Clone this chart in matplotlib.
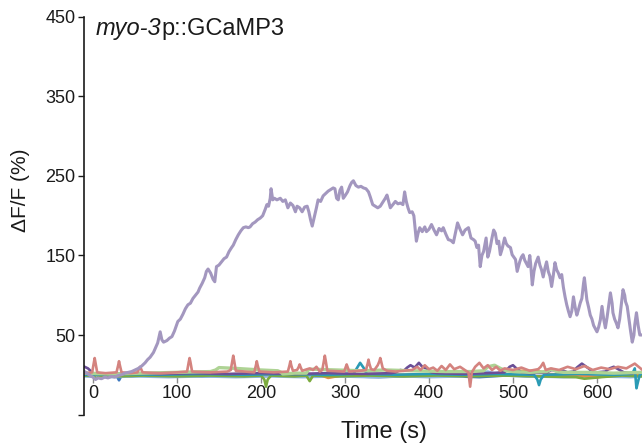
import matplotlib
matplotlib.use("Agg")
import matplotlib.pyplot as plt

plt.rcParams['font.family'] = ['Liberation Sans', 'DejaVu Sans']

# ---------------- data ----------------
# main responding trace (myo-3p::GCaMP3), time (s) and dF/F (%)
main_t = [-10, -6, -2, 0, 3, 6, 10, 14, 18, 22, 26, 30, 34, 38, 42, 46, 50, 54, 58, 62,
          65, 68, 72, 75, 77, 80, 82, 84, 88, 91, 94, 97, 101, 104, 107, 110, 113, 116, 119, 122,
          125, 127, 130, 133, 135, 137, 140, 143, 145, 147, 150, 153, 156, 159, 162, 165, 167, 170, 173, 176,
          179, 182, 185, 187, 190, 193, 196, 199, 202, 205, 207, 209, 211, 212, 214, 216, 219, 223, 226, 229,
          232, 235, 238, 241, 243, 246, 249, 252, 255, 257, 259, 261, 263, 266, 268, 271, 274, 277, 280, 283,
          286, 288, 290, 292, 294, 296, 298, 300, 303, 306, 308, 310, 313, 316, 319, 322, 325, 328, 330, 333,
          336, 339, 342, 345, 348, 350, 352, 354, 357, 360, 363, 366, 369, 371, 373, 375, 377, 380, 382, 385,
          387, 389, 392, 395, 397, 400, 403, 406, 409, 412, 415, 417, 420, 423, 426, 429, 431, 434, 437, 440,
          443, 447, 450, 453, 455, 457, 459, 461, 463, 465, 468, 470, 472, 475, 477, 479, 481, 483, 485, 487,
          490, 492, 494, 497, 499, 501, 503, 505, 508, 510, 512, 514, 516, 518, 520, 521, 523, 525, 527, 530,
          532, 534, 536, 538, 540, 542, 544, 546, 548, 550, 552, 554, 556, 558, 560, 562, 564, 566, 568, 570,
          572, 574, 576, 578, 580, 582, 584, 585, 587, 588, 590, 592, 594, 596, 598, 600, 602, 604, 606, 608,
          610, 612, 614, 616, 618, 619, 621, 623, 625, 627, 629, 631, 633, 634, 636, 638, 640, 642, 644, 645,
          647, 649, 651, 653]
main_v = [4, 1, -2, -3, -6, -4, -5, -3, -4, -2, -3, -1, 0, 2, 3, 4, 6, 8, 11, 15,
          19, 22, 28, 35, 40, 54, 44, 41, 43, 46, 48, 55, 67, 70, 76, 83, 88, 90, 96, 100,
          104, 109, 115, 122, 130, 133, 128, 120, 117, 136, 138, 142, 146, 148, 155, 160, 163, 170, 176, 181,
          185, 186, 185, 186, 190, 192, 195, 197, 200, 208, 214, 212, 222, 234, 220, 222, 220, 222, 218, 220,
          210, 216, 213, 205, 212, 210, 205, 211, 212, 205, 195, 187, 196, 210, 220, 218, 225, 228, 231, 233,
          235, 234, 222, 220, 232, 236, 222, 225, 230, 238, 242, 244, 238, 236, 237, 235, 234, 230, 224, 214,
          212, 210, 212, 217, 222, 226, 218, 210, 214, 218, 215, 216, 214, 230, 218, 210, 204, 205, 200, 168,
          178, 185, 180, 186, 180, 183, 189, 182, 176, 184, 181, 185, 177, 170, 169, 166, 176, 191, 183, 176,
          182, 185, 172, 170, 168, 160, 163, 136, 150, 155, 172, 148, 155, 172, 182, 178, 165, 168, 151, 158,
          172, 165, 162, 160, 151, 148, 145, 130, 142, 148, 151, 144, 140, 136, 150, 140, 113, 130, 140, 148,
          138, 132, 123, 134, 142, 130, 124, 111, 125, 141, 132, 128, 122, 126, 110, 98, 88, 80, 73, 80,
          98, 85, 75, 82, 90, 96, 115, 122, 104, 94, 85, 75, 70, 62, 58, 54, 60, 69, 86, 70,
          59, 72, 88, 103, 90, 78, 70, 65, 59, 70, 88, 107, 100, 92, 86, 70, 55, 41, 50, 63,
          78, 62, 50, 50]

# non-responding traces near baseline
blue_t = [-10, 0, 10, 20, 28, 31, 34, 45, 60, 80, 100, 130, 160, 190, 220, 250, 280, 310, 340, 370,
          400, 430, 460, 490, 520, 550, 580, 610, 640, 653]
blue_v = [-1, -2, -1, -2, -1, -7, -1, -2, -1, -2, -1, -2, -1, -2, -1, -2, -1, -2, -3, -2,
          -1, -2, -3, -1, -2, -1, -2, -1, -2, -1]

lightblue_t = [-10, 20, 50, 90, 130, 170, 210, 250, 290, 330, 370, 400, 440, 460, 470, 480, 520, 560, 600, 640, 653]
lightblue_v = [-2, -3, -2, -3, -2, -3, -2, -3, -2, -3, -2, -3, -2, 2, 4, 1, -2, -3, -2, -3, -2]

orange_t = [-10, 10, 40, 70, 100, 140, 180, 220, 250, 270, 280, 300, 330, 370, 410, 450, 480, 490, 530, 540, 570, 600, 630, 653]
orange_v = [1, 0, 1, 0, 1, 0, 1, 0, 1, 0, -4, 0, 1, 0, 1, 0, 1, 5, 5, 1, 0, -3, 0, 1]

olive_t = [-10, 0, 4, 8, 30, 60, 100, 140, 180, 200, 204, 206, 208, 212, 240, 254, 258, 262, 290, 330,
           370, 410, 450, 490, 530, 575, 585, 595, 605, 630, 653]
olive_v = [-1, -1, -5, -1, -2, -1, -2, -1, -2, -1, -6, -15, -6, -1, -2, -1, -8, -1, -2, -1,
           -2, -1, -2, -1, -2, -3, -5, -4, -3, -1, -2]

teal_t = [-10, 30, 80, 130, 180, 230, 280, 310, 314, 318, 322, 326, 360, 400, 440, 480, 525, 529, 531, 533,
          537, 580, 620, 642, 645, 647, 649, 651, 653]
teal_v = [0, 1, 0, 1, 0, 1, 0, 1, 8, 15, 9, 1, 0, 1, 0, 1, 0, -6, -13, -6,
          0, 1, 0, 1, 8, -17, -8, 0, 1]

darkpurple_t = [-10, -6, 0, 10, 40, 80, 120, 160, 200, 240, 280, 320, 355, 360, 366, 370, 374, 378, 383, 388,
                392, 397, 403, 410, 440, 470, 490, 496, 500, 505, 510, 520, 540, 546, 552, 558, 565, 572, 576, 582,
                586, 590, 594, 600, 610, 615, 620, 627, 632, 640, 653]
darkpurple_v = [10, 8, 2, 1, 2, 1, 2, 1, 2, 1, 2, 1, 2, 3, 6, 5, 9, 12, 9, 15,
                10, 8, 3, 2, 1, 2, 3, 10, 12, 7, 3, 2, 3, 6, 5, 6, 3, 4, 9, 14,
                11, 8, 4, 3, 4, 8, 10, 6, 3, 2, 3]

pink_t = [-10, -1, 1, 2, 3, 5, 15, 28, 30, 31, 32, 34, 45, 53, 55, 56, 57, 59, 80, 100,
          112, 114, 115, 116, 118, 140, 160, 164, 166, 167, 168, 170, 192, 194, 195, 196, 198, 215, 232, 234,
          235, 236, 238, 243, 245, 246, 247, 249, 258, 262, 266, 270, 273, 275, 276, 277, 279, 299, 301, 302,
          303, 305, 318, 325, 327, 328, 329, 331, 335, 339, 341, 342, 343, 345, 350, 360, 370, 380, 386, 390,
          395, 400, 405, 410, 415, 420, 425, 430, 437, 444, 447, 449, 451, 455, 460, 465, 470, 475, 480, 485,
          490, 500, 510, 520, 530, 533, 536, 539, 545, 555, 565, 575, 585, 595, 605, 615, 625, 635, 645, 653]
pink_v = [2, 3, 15, 21, 15, 3, 2, 3, 12, 17, 12, 3, 2, 3, 8, 10, 8, 3, 2, 3,
          4, 16, 21, 16, 4, 3, 4, 6, 18, 24, 18, 5, 3, 12, 17, 12, 4, 3, 4, 12,
          17, 12, 5, 6, 10, 13, 10, 5, 8, 6, 10, 4, 6, 18, 24, 18, 5, 4, 10, 13,
          10, 4, 5, 6, 14, 19, 14, 7, 6, 12, 17, 21, 17, 8, 5, 4, 5, 6, 10, 6,
          12, 7, 9, 5, 11, 6, 13, 7, 10, 5, 3, -15, 3, 10, 15, 8, 12, 6, 10, 5,
          8, 6, 9, 5, 7, 10, 15, 6, 8, 6, 10, 7, 11, 6, 9, 7, 10, 8, 14, 7]

green_t = [-10, 20, 60, 100, 140, 146, 150, 170, 200, 220, 224, 226, 240, 254, 256, 260, 290, 320, 350, 380,
           420, 450, 465, 470, 478, 485, 492, 500, 520, 540, 546, 552, 560, 590, 620, 653]
green_v = [2, 1, 2, 3, 4, 6, 9, 8, 6, 5, 3, 1, 2, 2, 6, 7, 6, 5, 6, 5,
           4, 4, 5, 10, 12, 8, 5, 4, 3, 4, 7, 4, 3, 3, 2, 3]

baseline_traces = [
    (blue_t, blue_v, '#3c78bf'),
    (lightblue_t, lightblue_v, '#8cb4de'),
    (orange_t, orange_v, '#e98d44'),
    (olive_t, olive_v, '#7cab3e'),
    (teal_t, teal_v, '#2a9bb5'),
    (darkpurple_t, darkpurple_v, '#6a4f97'),
    (green_t, green_v, '#aed394'),
    (pink_t, pink_v, '#d4837f'),
]

y_ticks = [-50, 50, 150, 250, 350, 450]
y_tick_labels = ['', '50', '150', '250', '350', '450']
x_ticks = [0, 100, 200, 300, 400, 500, 600]

# ---------------- figure ----------------
W, H = 642, 444
fig = plt.figure(figsize=(W / 100, H / 100), dpi=100)
ax = fig.add_axes([84 / W, 1 - 414.5 / H, (W - 84) / W, 397.5 / H])

for t, v, c in baseline_traces:
    lw = 2.4 if c == '#aed394' else 1.9
    ax.plot(t, v, color=c, lw=lw, solid_joinstyle='round')
ax.plot(main_t, main_v, color='#a397bf', lw=2.2, solid_joinstyle='round')

ax.set_xlim(-10.7, 653.6)
ax.set_ylim(-50, 450)

for s in ['top', 'right']:
    ax.spines[s].set_visible(False)
ax.spines['bottom'].set_position(('data', -3))
ax.spines['bottom'].set_color('none')
ax.spines['left'].set_linewidth(1.2)
ax.spines['left'].set_color('#1a1a1a')

ax.set_yticks(y_ticks)
ax.set_yticklabels(y_tick_labels)
ax.set_xticks(x_ticks)
ax.tick_params(axis='y', length=4, width=1.0, color='#1a1a1a', labelsize=13, pad=2,
               labelcolor='#1a1a1a')
ax.tick_params(axis='x', length=4, width=1.0, color='#8a8a8a', labelsize=13, pad=2,
               labelcolor='#1a1a1a')

fig.text(20 / W, 1 - 190 / H, 'ΔF/F (%)', rotation=90, ha='center', va='center',
         fontsize=15, color='#1a1a1a')
fig.text(384 / W, 1 - 438 / H, 'Time (s)', ha='center', va='baseline',
         fontsize=17, color='#1a1a1a')

t1 = fig.text(96 / W, 1 - 35 / H, 'myo-3', ha='left', va='baseline', fontsize=17,
              style='italic', color='#1a1a1a')
ax.annotate('p::GCaMP3', xy=(1, 0), xycoords=t1, ha='left', va='bottom',
            fontsize=17, color='#1a1a1a', annotation_clip=False)

fig.savefig('out.png', dpi=100)
